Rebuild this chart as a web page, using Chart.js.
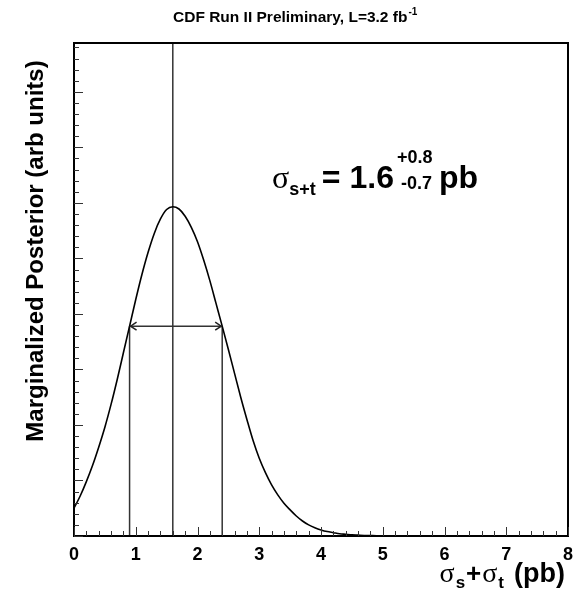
<!DOCTYPE html>
<html>
<head>
<meta charset="utf-8">
<script src="https://cdn.jsdelivr.net/npm/chart.js@4/dist/chart.umd.min.js"></script>
<style>
html,body{margin:0;padding:0;background:#fff;}
#wrap{width:585px;height:589px;}
</style>
</head>
<body>
<div id="wrap"><canvas id="c" width="585" height="589"></canvas></div>
<script>
// ---- data ----
const sigmaValues = [0.0,0.1,0.2,0.3,0.4,0.5,0.6,0.7,0.8,0.9,1.0,1.1,1.2,1.3,1.4,1.5,1.6,1.7,1.8,1.9,2.0,2.1,2.2,2.3,2.4,2.5,2.6,2.7,2.8,2.9,3.0,3.1,3.2,3.3,3.4,3.5,3.6,3.7,3.8,3.9,4.0,4.1,4.2,4.3,4.4,4.5,4.6,4.7,4.8,4.9,5.0,5.5,6.0,6.5,7.0,7.5,8.0];
const posterior   = [0.50,0.72,0.98,1.27,1.60,1.96,2.37,2.82,3.30,3.78,4.26,4.71,5.11,5.45,5.71,5.88,5.93,5.89,5.76,5.56,5.30,4.97,4.60,4.19,3.78,3.36,2.93,2.50,2.10,1.72,1.40,1.14,0.92,0.74,0.59,0.47,0.36,0.27,0.20,0.15,0.11,0.08,0.06,0.04,0.03,0.02,0.015,0.01,0.007,0.004,0.002,0.0,0.0,0.0,0.0,0.0,0.0];
const xTickLabels = ['0','1','2','3','4','5','6','7','8'];
const central = 1.6;
const lowerBound = 0.9;
const upperBound = 2.4;
const boundLevel = 3.78;
const yMax = 8.88;
const xMin = 0, xMax = 8;

const curveData = sigmaValues.map((x,i)=>({x:x,y:posterior[i]}));

const SANS = '"Liberation Sans", Arial, sans-serif';
const SERIF = '"Liberation Serif", serif';

function drawRun(ctx, parts, x0, base){
  let x = x0;
  for (const p of parts){
    ctx.font = p.font;
    if (p.text) ctx.fillText(p.text, x + (p.dx||0), base + (p.dy||0));
    x += (p.text ? ctx.measureText(p.text).width : 0) + (p.gap||0);
  }
  return x;
}
function runWidth(ctx, parts){
  let w = 0;
  for (const p of parts){ ctx.font = p.font; w += (p.text ? ctx.measureText(p.text).width : 0) + (p.gap||0); }
  return w;
}

const decor = {
  id:'decor',
  afterDraw(chart){
    const ctx = chart.ctx;
    const xs = chart.scales.x, ys = chart.scales.y;
    const L = chart.chartArea.left, R = chart.chartArea.right, T = chart.chartArea.top, B = chart.chartArea.bottom;
    ctx.save();
    // frame
    ctx.strokeStyle = '#000';
    ctx.lineWidth = 2;
    ctx.beginPath();
    ctx.rect(L, T, R-L, B-T);
    ctx.stroke();
    // x ticks inside
    ctx.lineWidth = 1;
    ctx.strokeStyle = '#333';
    for (let k = 0; k <= 40; k++) {
      const v = xMin + k*0.2;
      const px = Math.round(xs.getPixelForValue(v)) + 0.5;
      const len = (k % 5 === 0) ? 9 : 5;
      ctx.beginPath(); ctx.moveTo(px, B); ctx.lineTo(px, B-len); ctx.stroke();
    }
    // y ticks inside
    for (let k = 0; k*0.2 <= yMax; k++) {
      const v = k*0.2;
      const py = Math.round(ys.getPixelForValue(v)) + 0.5;
      const len = (k % 5 === 0) ? 9 : 5;
      ctx.beginPath(); ctx.moveTo(L, py); ctx.lineTo(L+len, py); ctx.stroke();
    }
    // arrow heads
    const ay = ys.getPixelForValue(boundLevel);
    const ax1 = xs.getPixelForValue(lowerBound), ax2 = xs.getPixelForValue(upperBound);
    ctx.strokeStyle = '#222'; ctx.lineWidth = 1.5;
    ctx.beginPath();
    ctx.moveTo(ax1+7, ay-4); ctx.lineTo(ax1+1, ay); ctx.lineTo(ax1+7, ay+4);
    ctx.moveTo(ax2-7, ay-4); ctx.lineTo(ax2-1, ay); ctx.lineTo(ax2-7, ay+4);
    ctx.stroke();

    ctx.fillStyle = '#000';
    ctx.textBaseline = 'alphabetic';
    ctx.textAlign = 'left';
    // title
    drawRun(ctx, [
      {text:'CDF Run II Preliminary, L=3.2 fb', font:'bold 15.5px '+SANS, gap:1},
      {text:'-1', font:'bold 10px '+SANS, dy:-7}
    ], 173, 22);

    // y axis title
    ctx.save();
    ctx.translate(43, 251);
    ctx.rotate(-Math.PI/2);
    ctx.textAlign = 'center';
    ctx.font = 'bold 24px '+SANS;
    ctx.fillText('Marginalized Posterior (arb units)', 0, 0);
    ctx.restore();
    ctx.textAlign = 'left';

    // x axis title
    const xt = [
      {text:'σ', font:'28px '+SERIF, gap:1},
      {text:'s', font:'bold 17px '+SANS, dy:6, gap:1},
      {text:'+', font:'bold 26px '+SANS, gap:1},
      {text:'σ', font:'28px '+SERIF, gap:1},
      {text:'t', font:'bold 17px '+SANS, dy:6, gap:10},
      {text:'(pb)', font:'bold 27px '+SANS}
    ];
    drawRun(ctx, xt, 565 - runWidth(ctx, xt), 582);

    // result formula
    drawRun(ctx, [
      {text:'σ', font:'32px '+SERIF},
      {text:'s+t', font:'bold 18px '+SANS, dy:7, gap:6},
      {text:'=', font:'bold 32px '+SANS, gap:9},
      {text:'1.6', font:'bold 32px '+SANS, gap:3}
    ], 272, 188);
    ctx.font = 'bold 18px '+SANS;
    ctx.fillText('+0.8', 397, 163);
    ctx.fillText('-0.7', 401, 189);
    ctx.font = 'bold 32px '+SANS;
    ctx.fillText('pb', 439, 188);
    ctx.restore();
  }
};

const lineStyle = {borderColor:'#333', borderWidth:1.5, pointRadius:0, fill:false, showLine:true};

new Chart(document.getElementById('c'), {
  type:'scatter',
  data:{
    datasets:[
      {data:curveData, borderColor:'#000', borderWidth:1.6, pointRadius:0, showLine:true, fill:false, cubicInterpolationMode:'monotone'},
      Object.assign({data:[{x:central,y:0},{x:central,y:yMax}]}, lineStyle),
      Object.assign({data:[{x:lowerBound,y:0},{x:lowerBound,y:boundLevel}]}, lineStyle),
      Object.assign({data:[{x:upperBound,y:0},{x:upperBound,y:boundLevel}]}, lineStyle),
      Object.assign({data:[{x:lowerBound,y:boundLevel},{x:upperBound,y:boundLevel}]}, lineStyle)
    ]
  },
  options:{
    responsive:false,
    animation:false,
    devicePixelRatio:1,
    layout:{padding:{top:43, right:17, left:0, bottom:0}},
    plugins:{legend:{display:false}, tooltip:{enabled:false}, title:{display:false}},
    scales:{
      x:{type:'linear', min:xMin, max:xMax,
         afterFit(s){ s.height = 53; },
         grid:{display:false, drawTicks:false},
         border:{display:false},
         ticks:{stepSize:1, padding:8, color:'#000', maxRotation:0,
                font:{family:'"Liberation Sans", Arial, sans-serif', size:18, weight:'bold'},
                callback:(v)=>{const i = Math.round(v); return (Math.abs(v-i)<1e-6 && xTickLabels[i]!==undefined)? xTickLabels[i] : '';}}},
      y:{type:'linear', min:0, max:yMax,
         afterFit(s){ s.width = 74; },
         grid:{display:false, drawTicks:false},
         border:{display:false},
         ticks:{display:false}}
    }
  },
  plugins:[decor]
});
</script>
</body>
</html>
